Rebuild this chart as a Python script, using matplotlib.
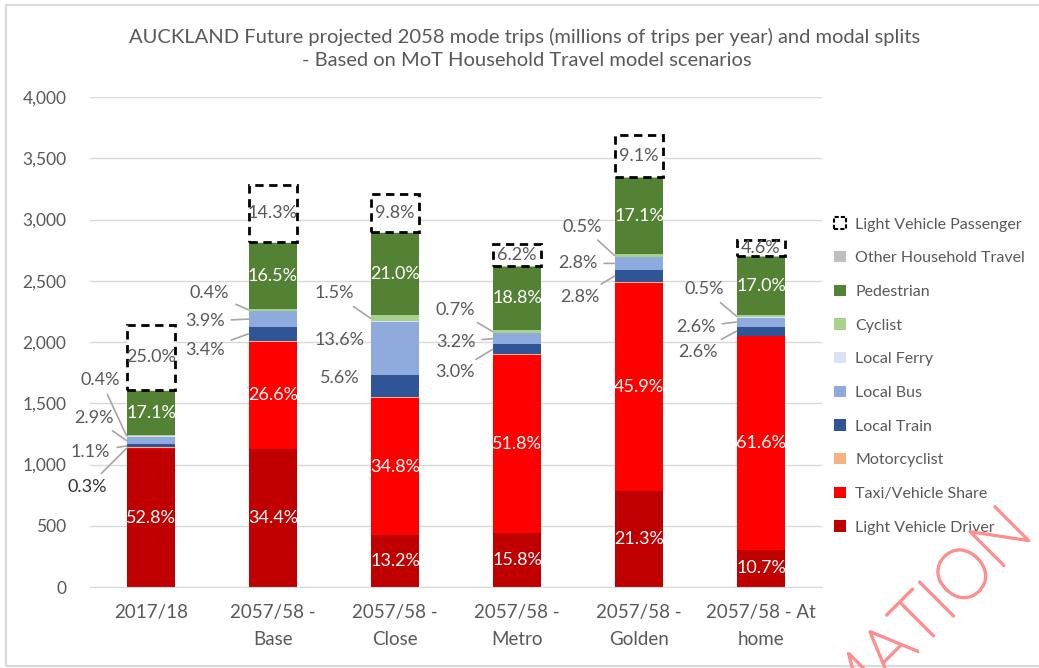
import matplotlib
matplotlib.use("Agg")
import matplotlib.pyplot as plt
import matplotlib.patheffects as pe
from matplotlib.patches import Patch, Rectangle
import numpy as np

plt.rcParams["font.family"] = ["Lato", "DejaVu Sans"]

# categories
scenarios = ["2017/18", "2057/58 -\nBase", "2057/58 -\nClose", "2057/58 -\nMetro",
             "2057/58 -\nGolden", "2057/58 - At\nhome"]

# trips (millions per year), bottom to top of each stack
driver = [1130, 1130, 424, 442, 786, 303]
taxi = [6, 874, 1117, 1450, 1694, 1743]
moto = [4, 7, 6, 6, 7, 6]
train = [24, 112, 180, 84, 103, 74]
bus = [62, 128, 437, 90, 103, 74]
ferry = [3, 5, 5, 3, 4, 3]
cyclist = [9, 13, 48, 20, 18, 14]
pedestrian = [366, 542, 674, 526, 631, 481]
other = [3, 4, 4, 3, 4, 3]
passenger = [535, 470, 315, 174, 336, 130]

# modal split labels
driver_pct = ["52.8%", "34.4%", "13.2%", "15.8%", "21.3%", "10.7%"]
taxi_pct = ["0.3%", "26.6%", "34.8%", "51.8%", "45.9%", "61.6%"]
train_pct = ["1.1%", "3.4%", "5.6%", "3.0%", "2.8%", "2.6%"]
bus_pct = ["2.9%", "3.9%", "13.6%", "3.2%", "2.8%", "2.6%"]
cyclist_pct = ["0.4%", "0.4%", "1.5%", "0.7%", "0.5%", "0.5%"]
ped_pct = ["17.1%", "16.5%", "21.0%", "18.8%", "17.1%", "17.0%"]
pass_pct = ["25.0%", "14.3%", "9.8%", "6.2%", "9.1%", "4.6%"]

series = [
    ("Light Vehicle Driver", driver, "#C00000"),
    ("Taxi/Vehicle Share", taxi, "#FF0000"),
    ("Motorcyclist", moto, "#F4B183"),
    ("Local Train", train, "#2F5597"),
    ("Local Bus", bus, "#8FAADC"),
    ("Local Ferry", ferry, "#DAE3F3"),
    ("Cyclist", cyclist, "#A9D18E"),
    ("Pedestrian", pedestrian, "#548235"),
    ("Other Household Travel", other, "#BFBFBF"),
]

grey = "#595959"
lab_fs = 13
fig = plt.figure(figsize=(10.39, 6.68), dpi=100)
ax = fig.add_axes([90 / 1039, 1 - 587 / 668, 732 / 1039, 490 / 668])

x = np.arange(len(scenarios))
w = 0.4
bottom = np.zeros(len(scenarios))
bottoms = {}
handles = []
for name, vals, col in series:
    vals = np.array(vals, dtype=float)
    ax.bar(x, vals, w, bottom=bottom, color=col, linewidth=0, zorder=2)
    bottoms[name] = (bottom.copy(), vals)
    handles.append(Patch(facecolor=col, edgecolor="none", label=name))
    bottom = bottom + vals

pv = np.array(passenger, dtype=float)
ax.bar(x, pv, w, bottom=bottom, facecolor="white", edgecolor="black",
       linestyle=(0, (3, 2)), linewidth=2, zorder=2)
handles.append(Patch(facecolor="white", edgecolor="black", linestyle=(0, (2, 1)),
                     linewidth=1.5, label="Light Vehicle Passenger"))
for i in range(len(x)):
    ax.text(x[i], bottom[i] + pv[i] / 2, pass_pct[i], ha="center", va="center",
            color=grey, fontsize=lab_fs, zorder=3)

# labels inside the bars
def inside(name, labels, skip=()):
    b, v = bottoms[name]
    for i in range(len(x)):
        if i in skip:
            continue
        ax.text(x[i], b[i] + v[i] / 2, labels[i], ha="center", va="center",
                color="white", fontsize=lab_fs, zorder=3)

inside("Light Vehicle Driver", driver_pct)
inside("Taxi/Vehicle Share", taxi_pct, skip=(0,))
inside("Pedestrian", ped_pct)

# callout labels: (bar, series, label list, dx px, dy px, leader line)
callouts = [
    (0, "Cyclist", cyclist_pct, -26, 56, True),
    (0, "Local Bus", bus_pct, -33, 23, True),
    (0, "Local Train", train_pct, -36, -6, True),
    (0, "Taxi/Vehicle Share", taxi_pct, -39, -39, True),
    (1, "Cyclist", cyclist_pct, -39, 17, True),
    (1, "Local Bus", bus_pct, -44, -2, True),
    (1, "Local Train", train_pct, -44, -16, True),
    (2, "Cyclist", cyclist_pct, -36, 25, True),
    (2, "Local Bus", bus_pct, -31, 9, False),
    (2, "Local Train", train_pct, -31, 8, False),
    (3, "Cyclist", cyclist_pct, -37, 22, True),
    (3, "Local Bus", bus_pct, -37, -3, True),
    (3, "Local Train", train_pct, -38, -23, True),
    (4, "Cyclist", cyclist_pct, -32, 29, True),
    (4, "Local Bus", bus_pct, -37, 0, True),
    (4, "Local Train", train_pct, -35, -21, True),
    (5, "Cyclist", cyclist_pct, -32, 27, True),
    (5, "Local Bus", bus_pct, -41, -5, True),
    (5, "Local Train", train_pct, -39, -21, True),
]
for i, name, labels, dx, dy, line in callouts:
    b, v = bottoms[name]
    anchor = (x[i] - w / 2, b[i] + v[i] / 2)
    col = "#333333" if (i == 0 and name == "Taxi/Vehicle Share") else grey
    props = dict(arrowstyle="-", color="#A6A6A6", lw=1.2, shrinkA=3, shrinkB=0) if line else None
    ax.annotate(labels[i], xy=anchor, xytext=(dx, dy), textcoords="offset pixels",
                ha="center", va="center", color=col, fontsize=lab_fs,
                arrowprops=props, zorder=4)

ax.set_xlim(-0.5, len(x) - 0.5)
ax.set_ylim(0, 4000)
ax.set_yticks(np.arange(0, 4001, 500))
ax.set_yticklabels([f"{v:,}" for v in range(0, 4001, 500)])
ax.set_xticks(x)
ax.set_xticklabels(scenarios, linespacing=1.75)
ax.tick_params(axis="both", length=0, colors=grey)
ax.tick_params(axis="y", pad=17, labelsize=12.5)
ax.tick_params(axis="x", pad=12, labelsize=13.5)
ax.grid(axis="y", color="#D9D9D9", linewidth=1, zorder=0)
ax.set_axisbelow(True)
for s in ["top", "right", "left"]:
    ax.spines[s].set_visible(False)
ax.spines["bottom"].set_color("#D9D9D9")

leg = fig.legend(handles=handles[::-1], loc="upper left",
                 bbox_to_anchor=(828 / 1039, 1 - 211 / 668), frameon=False,
                 fontsize=11.5, labelcolor=grey, handlelength=0.7, handleheight=0.7,
                 handletextpad=0.6, labelspacing=1.22, borderaxespad=0)

fig.text(525 / 1039, 1 - 37 / 668,
         "AUCKLAND Future projected 2058 mode trips (millions of trips per year) and modal splits",
         ha="center", va="center", fontsize=14.5, color=grey)
fig.text(527 / 1039, 1 - 61 / 668, "- Based on MoT Household Travel model scenarios",
         ha="center", va="center", fontsize=14.5, color=grey)

# outer chart frame
fig.patches.append(Rectangle((6 / 1039, 2 / 668), 1.1, 1 - 7 / 668, transform=fig.transFigure,
                             facecolor="none", edgecolor="#D9D9D9", linewidth=1.5))

# watermark
fig.text(1035 / 1039, 1 - 535 / 668, "INFORMATION", ha="right", va="baseline",
         rotation=45, rotation_mode="anchor", fontsize=50, color=(1, 1, 1, 0),
         fontweight="light",
         path_effects=[pe.Stroke(linewidth=1.8, foreground="#FF8F8F")], zorder=10)

fig.savefig("out.png", dpi=100)
